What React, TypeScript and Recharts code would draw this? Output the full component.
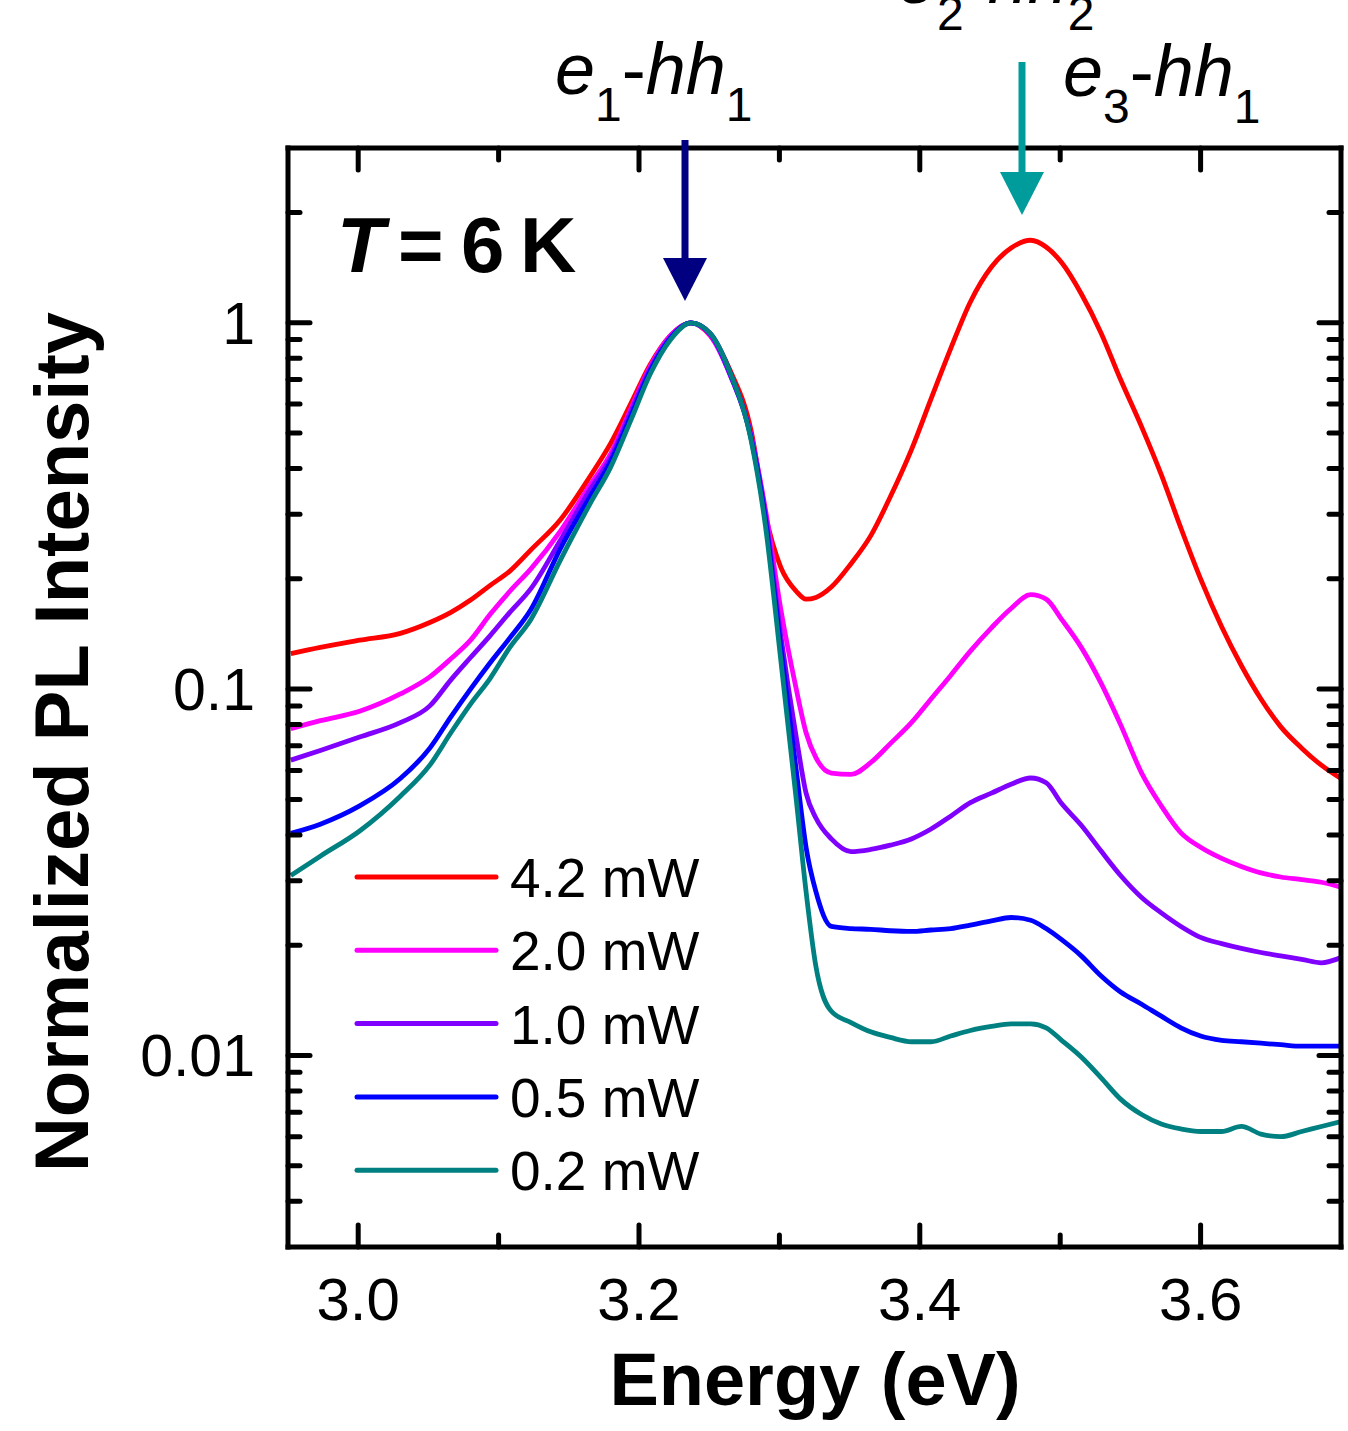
import React from 'react';
import { LineChart, Line, XAxis, YAxis } from 'recharts';

// photon energy (eV), shared by all spectra
const energy = [
  2.952, 2.973, 3.001, 3.03, 3.051, 3.066, 3.08, 3.094, 3.108, 3.123, 3.144, 3.165, 3.18,
  3.194, 3.208, 3.222, 3.237, 3.251, 3.265, 3.28, 3.29, 3.301, 3.312, 3.319, 3.326, 3.337,
  3.351, 3.365, 3.379, 3.394, 3.408, 3.422, 3.436, 3.451, 3.465, 3.479, 3.49, 3.501, 3.515,
  3.529, 3.543, 3.558, 3.572, 3.586, 3.6, 3.615, 3.629, 3.643, 3.657, 3.672, 3.686, 3.7,
];

// normalized PL intensity for each excitation power
const p42 = [
  0.125, 0.13, 0.136, 0.142, 0.152, 0.162, 0.175, 0.192, 0.21, 0.24, 0.29, 0.38, 0.47,
  0.6, 0.77, 0.92, 1.0, 0.92, 0.74, 0.505, 0.3, 0.215, 0.185, 0.176, 0.178, 0.19,
  0.22, 0.262, 0.335, 0.45, 0.62, 0.85, 1.14, 1.42, 1.6, 1.68, 1.61, 1.46, 1.2,
  0.94, 0.7, 0.52, 0.385, 0.275, 0.2, 0.148, 0.116, 0.094, 0.079, 0.069, 0.062, 0.057,
];
const p20 = [
  0.078, 0.082, 0.087, 0.097, 0.108, 0.121, 0.136, 0.16, 0.185, 0.213, 0.27, 0.36, 0.44,
  0.58, 0.76, 0.92, 1.0, 0.92, 0.72, 0.49, 0.31, 0.165, 0.1, 0.076, 0.065, 0.059,
  0.0585, 0.063, 0.071, 0.081, 0.094, 0.109, 0.127, 0.147, 0.166, 0.181, 0.176, 0.155, 0.13,
  0.104, 0.08, 0.059, 0.048, 0.0405, 0.037, 0.0345, 0.0328, 0.0315, 0.0307, 0.0302, 0.0297, 0.0288,
];
const p10 = [
  0.064, 0.068, 0.074, 0.081, 0.09, 0.106, 0.122, 0.14, 0.162, 0.188, 0.255, 0.35, 0.43,
  0.57, 0.75, 0.91, 1.0, 0.93, 0.72, 0.485, 0.3, 0.14, 0.074, 0.052, 0.0445, 0.039,
  0.036, 0.0365, 0.0375, 0.039, 0.0415, 0.045, 0.049, 0.052, 0.055, 0.0572, 0.0555, 0.0487, 0.0425,
  0.0362, 0.031, 0.027, 0.0245, 0.0225, 0.021, 0.0202, 0.0196, 0.0191, 0.0187, 0.0183, 0.0179, 0.0185,
];
const p05 = [
  0.0404, 0.0428, 0.048, 0.057, 0.069, 0.084, 0.1, 0.118, 0.138, 0.165, 0.242, 0.335, 0.42,
  0.555, 0.74, 0.905, 1.0, 0.933, 0.73, 0.48, 0.29, 0.13, 0.06, 0.037, 0.028, 0.0225,
  0.0222, 0.0221, 0.0219, 0.0218, 0.022, 0.0222, 0.0227, 0.0233, 0.0238, 0.0234, 0.0222, 0.0207, 0.0187,
  0.0165, 0.0149, 0.0138, 0.0128, 0.0119, 0.0113, 0.011, 0.0109, 0.0108, 0.0107, 0.0106, 0.0106, 0.0106,
];
const p02 = [
  0.031, 0.035, 0.041, 0.051, 0.062, 0.076, 0.091, 0.107, 0.13, 0.155, 0.225, 0.32, 0.405,
  0.54, 0.725, 0.895, 1.0, 0.933, 0.73, 0.475, 0.28, 0.12, 0.05, 0.028, 0.0175, 0.0132,
  0.0123, 0.0116, 0.0112, 0.0109, 0.0109, 0.0113, 0.0117, 0.012, 0.0122, 0.0122, 0.0119, 0.011, 0.0099,
  0.0087, 0.0076, 0.0069, 0.0065, 0.0063, 0.0062, 0.0062, 0.0064, 0.0061, 0.006, 0.0062, 0.0064, 0.0066,
];

const series = [
  { key: 'p42', name: '4.2 mW', color: '#ff0000', values: p42 },
  { key: 'p20', name: '2.0 mW', color: '#ff00ff', values: p20 },
  { key: 'p10', name: '1.0 mW', color: '#8000ff', values: p10 },
  { key: 'p05', name: '0.5 mW', color: '#0000ff', values: p05 },
  { key: 'p02', name: '0.2 mW', color: '#008080', values: p02 },
];

const xTicks = [3.0, 3.1, 3.2, 3.3, 3.4, 3.5, 3.6];
const xMajor = [3.0, 3.2, 3.4, 3.6];
const yTicks = [
  0.004, 0.005, 0.006, 0.007, 0.008, 0.009, 0.01, 0.02, 0.03, 0.04, 0.05, 0.06, 0.07, 0.08,
  0.09, 0.1, 0.2, 0.3, 0.4, 0.5, 0.6, 0.7, 0.8, 0.9, 1, 2,
];
const yMajor = [0.01, 0.1, 1];

const data = energy.map((e, i) => {
  const row: Record<string, number> = { e };
  series.forEach((s) => {
    row[s.key] = s.values[i];
  });
  return row;
});

const FONT = '"Liberation Sans", Arial, Helvetica, sans-serif';
const near = (list: number[], v: number) => list.some((m) => Math.abs(m - v) < 1e-6);

function BottomTick({ x, y, payload }: any) {
  const major = near(xMajor, payload.value);
  return (
    <g>
      <line x1={x} x2={x} y1={y} y2={y - (major ? 22 : 12)} stroke="#000" strokeWidth={5} strokeLinecap="round" />
      {major && (
        <text x={x} y={y + 73} textAnchor="middle" fontSize={60} fontFamily={FONT} fill="#000">
          {payload.value.toFixed(1)}
        </text>
      )}
    </g>
  );
}

function TopTick({ x, y, payload }: any) {
  const major = near(xMajor, payload.value);
  return <line x1={x} x2={x} y1={y} y2={y + (major ? 22 : 12)} stroke="#000" strokeWidth={5} strokeLinecap="round" />;
}

function LeftTick({ x, y, payload }: any) {
  const major = near(yMajor, payload.value);
  return (
    <g>
      <line x1={x} x2={x + (major ? 22 : 12)} y1={y} y2={y} stroke="#000" strokeWidth={5} strokeLinecap="round" />
      {major && (
        <text x={x - 33} y={y + 21} textAnchor="end" fontSize={59} fontFamily={FONT} fill="#000">
          {String(payload.value)}
        </text>
      )}
    </g>
  );
}

function RightTick({ x, y, payload }: any) {
  const major = near(yMajor, payload.value);
  return <line x1={x} x2={x - (major ? 22 : 12)} y1={y} y2={y} stroke="#000" strokeWidth={5} strokeLinecap="round" />;
}

const axisLine = { stroke: '#000', strokeWidth: 5, strokeLinecap: 'square' as const };

function Label({ x, y, e, h }: { x: number; y: number; e: string; h: string }) {
  return (
    <text x={x} y={y} fontSize={72} fontFamily={FONT} fill="#000">
      <tspan fontStyle="italic">e</tspan>
      <tspan fontSize={48} dy={27}>{e}</tspan>
      <tspan dy={-27}>-</tspan>
      <tspan fontStyle="italic">hh</tspan>
      <tspan fontSize={48} dy={27}>{h}</tspan>
    </text>
  );
}

export default function App() {
  return (
    <div style={{ position: 'absolute', left: 0, top: 0, width: 1348, height: 1431, background: '#fff', overflow: 'hidden' }}>
      <LineChart width={1348} height={1431} data={data} margin={{ top: 0, right: 0, bottom: 0, left: 0 }}>
        <XAxis
          dataKey="e"
          type="number"
          domain={[2.95, 3.7]}
          allowDataOverflow
          ticks={xTicks}
          interval={0}
          height={184}
          tickSize={0}
          tickMargin={0}
          tickLine={false}
          axisLine={axisLine}
          tick={<BottomTick />}
        />
        <XAxis
          xAxisId="top"
          orientation="top"
          dataKey="e"
          type="number"
          domain={[2.95, 3.7]}
          allowDataOverflow
          ticks={xTicks}
          interval={0}
          height={148}
          tickSize={0}
          tickMargin={0}
          tickLine={false}
          axisLine={axisLine}
          tick={<TopTick />}
        />
        <YAxis
          type="number"
          scale="log"
          domain={[0.003, 3]}
          allowDataOverflow
          ticks={yTicks}
          interval={0}
          width={288}
          tickSize={0}
          tickMargin={0}
          tickLine={false}
          axisLine={axisLine}
          tick={<LeftTick />}
        />
        <YAxis
          yAxisId="right"
          orientation="right"
          type="number"
          scale="log"
          domain={[0.003, 3]}
          allowDataOverflow
          ticks={yTicks}
          interval={0}
          width={7}
          tickSize={0}
          tickMargin={0}
          tickLine={false}
          axisLine={axisLine}
          tick={<RightTick />}
        />
        {series.map((s) => (
          <Line
            key={s.key}
            dataKey={s.key}
            name={s.name}
            stroke={s.color}
            strokeWidth={4.8}
            type="monotone"
            dot={false}
            activeDot={false}
            isAnimationActive={false}
          />
        ))}
      </LineChart>

      <svg
        width={1348}
        height={1431}
        style={{ position: 'absolute', left: 0, top: 0, pointerEvents: 'none' }}
      >
        {/* temperature */}
        <g fontFamily={FONT} fontWeight="bold" fontSize={78} fill="#000">
          <text x={337} y={272} fontStyle="italic">T</text>
          <text x={398} y={272}>=</text>
          <text x={461} y={272}>6</text>
          <text x={520} y={272}>K</text>
        </g>

        {/* transition arrows */}
        <line x1={685} x2={685} y1={140} y2={262} stroke="#000080" strokeWidth={7} />
        <polygon points="663,258 707,258 685,301" fill="#000080" />
        <line x1={1022} x2={1022} y1={62} y2={176} stroke="#009b9b" strokeWidth={7} />
        <polygon points="1000,172 1044,172 1022,215" fill="#009b9b" />

        <Label x={555} y={94} e="1" h="1" />
        <Label x={1063} y={96} e="3" h="1" />
        <Label x={897} y={3} e="2" h="2" />

        {/* legend */}
        {series.map((s, i) => (
          <g key={s.key}>
            <line
              x1={357}
              x2={496}
              y1={877 + i * 73.3}
              y2={877 + i * 73.3}
              stroke={s.color}
              strokeWidth={5}
              strokeLinecap="round"
            />
            <text x={510} y={897 + i * 73.3} fontSize={55} fontFamily={FONT} fill="#000">
              {s.name}
            </text>
          </g>
        ))}

        {/* axis titles */}
        <text x={815} y={1405} textAnchor="middle" fontSize={74} fontWeight="bold" fontFamily={FONT} fill="#000">
          Energy (eV)
        </text>
        <text
          transform="translate(88,742) rotate(-90)"
          textAnchor="middle"
          fontSize={76}
          fontWeight="bold"
          fontFamily={FONT}
          fill="#000"
        >
          Normalized PL Intensity
        </text>
      </svg>
    </div>
  );
}
